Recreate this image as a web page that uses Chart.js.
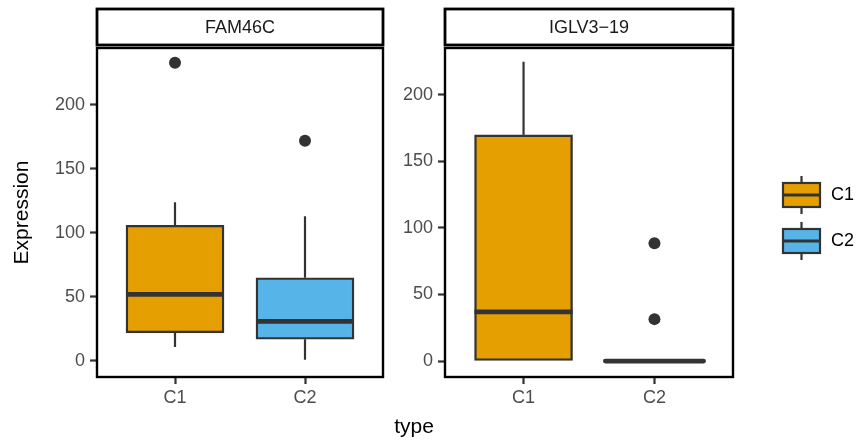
<!DOCTYPE html>
<html lang="en">
<head>
    <meta charset="UTF-8">
    <title>Expression by type</title>
    <script src="https://cdn.jsdelivr.net/npm/chart.js"></script>
    <style>
        body { margin: 0; background: #fff; }
        #wrap { position: relative; width: 857px; height: 441px; }
        #leftBox { position: absolute; left: 0; top: 0; }
        #rightBox { position: absolute; left: 390px; top: 0; }
        #typeTitle {
            position: absolute; left: 364px; width: 100px; top: 414px;
            text-align: center; font: 21px "Liberation Sans", Arial, sans-serif; color: #000;
        }
    </style>
</head>
<body>
<div id="wrap">
    <div id="leftBox"><canvas id="famChart" width="390" height="441"></canvas></div>
    <div id="rightBox"><canvas id="iglChart" width="467" height="441"></canvas></div>
    <div id="typeTitle">type</div>
</div>

<script>
    // categories and box fills
    const categories = ['C1', 'C2'];
    const boxColors = ['#E69F00', '#56B4E9'];

    // FAM46C panel, values per category (C1, C2)
    const famLow = [11, 1];
    const famQ1 = [22, 17];
    const famMedian = [52, 31];
    const famQ3 = [106, 65];
    const famHigh = [124, 113];
    const famOutliers = [[233], [172]];
    const famRange = [-12.5, 244.5];

    // IGLV3-19 panel
    const iglLow = [0, 0];
    const iglQ1 = [0, 0];
    const iglMedian = [37, 0];
    const iglQ3 = [170, 0];
    const iglHigh = [225, 0];
    const iglOutliers = [[], [88.5, 31.5]];
    const iglRange = [-12, 235.3];

    const yTicks = [0, 50, 100, 150, 200];

    const FONT = '"Liberation Sans", Arial, sans-serif';
    const TICK_GREY = '#4d4d4d';
    const DARK = '#333333';

    // whiskers, medians, panel border and strip drawn with the chart's own scales
    const boxPlugin = {
        id: 'boxExtras',
        beforeDatasetsDraw(chart) {
            const { ctx, scales: { x, y } } = chart;
            const s = chart.options.plugins.boxExtras;
            ctx.save();
            ctx.strokeStyle = DARK;
            ctx.lineWidth = 2.2;
            categories.forEach((c, i) => {
                const px = x.getPixelForValue(i + 1);
                ctx.beginPath();
                ctx.moveTo(px, y.getPixelForValue(s.high[i]));
                ctx.lineTo(px, y.getPixelForValue(s.q3[i]));
                ctx.moveTo(px, y.getPixelForValue(s.q1[i]));
                ctx.lineTo(px, y.getPixelForValue(s.low[i]));
                ctx.stroke();
            });
            ctx.restore();
        },
        afterDatasetsDraw(chart) {
            const { ctx, scales: { x, y } } = chart;
            const s = chart.options.plugins.boxExtras;
            const half = (x.getPixelForValue(1.375) - x.getPixelForValue(0.625)) / 2;
            ctx.save();
            ctx.strokeStyle = DARK;
            ctx.lineWidth = 4.8;
            categories.forEach((c, i) => {
                const px = x.getPixelForValue(i + 1);
                const py = y.getPixelForValue(s.median[i]);
                ctx.lineCap = s.q1[i] === s.q3[i] ? 'round' : 'butt';
                ctx.beginPath();
                ctx.moveTo(px - half, py);
                ctx.lineTo(px + half, py);
                ctx.stroke();
            });
            ctx.restore();
        },
        afterDraw(chart) {
            const { ctx, chartArea: a } = chart;
            const s = chart.options.plugins.boxExtras;
            ctx.save();
            // panel border
            ctx.strokeStyle = '#000';
            ctx.lineWidth = 2.4;
            ctx.strokeRect(a.left, a.top, a.right - a.left, a.bottom - a.top);
            // facet strip
            ctx.fillStyle = '#fff';
            ctx.lineWidth = 2.8;
            ctx.fillRect(a.left, 9, a.right - a.left, 36);
            ctx.strokeRect(a.left, 9, a.right - a.left, 36);
            ctx.fillStyle = '#1a1a1a';
            ctx.font = '18px ' + FONT;
            ctx.textAlign = 'center';
            ctx.textBaseline = 'middle';
            ctx.fillText(s.strip, (a.left + a.right) / 2, 28);

            // legend keys on the right panel only
            if (s.legend) {
                const kx = a.right + 50, kw = 37, kh = 24;
                categories.forEach((c, i) => {
                    const cy = 195 + i * 46;
                    ctx.strokeStyle = DARK;
                    ctx.lineWidth = 2.2;
                    ctx.beginPath();
                    ctx.moveTo(kx + kw / 2, cy - 19);
                    ctx.lineTo(kx + kw / 2, cy + 19);
                    ctx.stroke();
                    ctx.fillStyle = boxColors[i];
                    ctx.fillRect(kx, cy - kh / 2, kw, kh);
                    ctx.strokeRect(kx, cy - kh / 2, kw, kh);
                    ctx.lineWidth = 3;
                    ctx.beginPath();
                    ctx.moveTo(kx, cy);
                    ctx.lineTo(kx + kw, cy);
                    ctx.stroke();
                    ctx.fillStyle = '#000';
                    ctx.font = '18px ' + FONT;
                    ctx.textAlign = 'left';
                    ctx.fillText(c, kx + kw + 11, cy);
                });
            }
            ctx.restore();
        }
    };

    function makePanel(canvasId, strip, stats, outliers, range, yWidth, padding, showYTitle, legend) {
        const outlierPoints = [];
        outliers.forEach((list, i) => list.forEach(v => outlierPoints.push({ x: i + 1, y: v })));

        return new Chart(document.getElementById(canvasId), {
            type: 'bar',
            data: {
                datasets: [
                    {
                        type: 'bar',
                        data: categories.map((c, i) => ({ x: i + 1, y: [stats.q1[i], stats.q3[i]] })),
                        backgroundColor: boxColors,
                        borderColor: DARK,
                        borderWidth: 2.4,
                        borderSkipped: false,
                        barThickness: 98
                    },
                    {
                        type: 'scatter',
                        data: outlierPoints,
                        pointRadius: 6,
                        pointBackgroundColor: DARK,
                        pointBorderWidth: 0
                    }
                ]
            },
            options: {
                responsive: false,
                animation: false,
                layout: { padding: padding },
                plugins: {
                    legend: { display: false },
                    tooltip: { enabled: false },
                    boxExtras: Object.assign({ strip: strip, legend: legend }, stats)
                },
                scales: {
                    x: {
                        type: 'linear',
                        offset: false,
                        min: 0.4,
                        max: 2.6,
                        afterBuildTicks: scale => { scale.ticks = categories.map((c, i) => ({ value: i + 1 })); },
                        afterFit: scale => { scale.height = 64; },
                        ticks: {
                            callback: v => categories[v - 1],
                            color: TICK_GREY,
                            font: { family: FONT, size: 18 },
                            padding: 3,
                            maxRotation: 0
                        },
                        grid: { offset: false, drawOnChartArea: false, drawTicks: true, tickLength: 7, tickWidth: 2.2, tickColor: DARK },
                        border: { display: false }
                    },
                    y: {
                        min: range[0],
                        max: range[1],
                        afterBuildTicks: scale => { scale.ticks = yTicks.map(v => ({ value: v })); },
                        afterFit: scale => { scale.width = yWidth; },
                        ticks: {
                            color: TICK_GREY,
                            font: { family: FONT, size: 18 },
                            padding: 5
                        },
                        grid: { drawOnChartArea: false, drawTicks: true, tickLength: 7, tickWidth: 2.2, tickColor: DARK },
                        border: { display: false },
                        title: {
                            display: showYTitle,
                            text: 'Expression',
                            color: '#000',
                            font: { family: FONT, size: 21 },
                            padding: { top: 4, bottom: 0 }
                        }
                    }
                }
            },
            plugins: [boxPlugin]
        });
    }

    makePanel('famChart', 'FAM46C',
        { low: famLow, q1: famQ1, median: famMedian, q3: famQ3, high: famHigh },
        famOutliers, famRange, 91, { left: 6, top: 48, right: 7, bottom: 0 }, true, false);

    makePanel('iglChart', 'IGLV3\u221219',
        { low: iglLow, q1: iglQ1, median: iglMedian, q3: iglQ3, high: iglHigh },
        iglOutliers, iglRange, 55, { left: 0, top: 48, right: 124, bottom: 0 }, false, true);
</script>
</body>
</html>
